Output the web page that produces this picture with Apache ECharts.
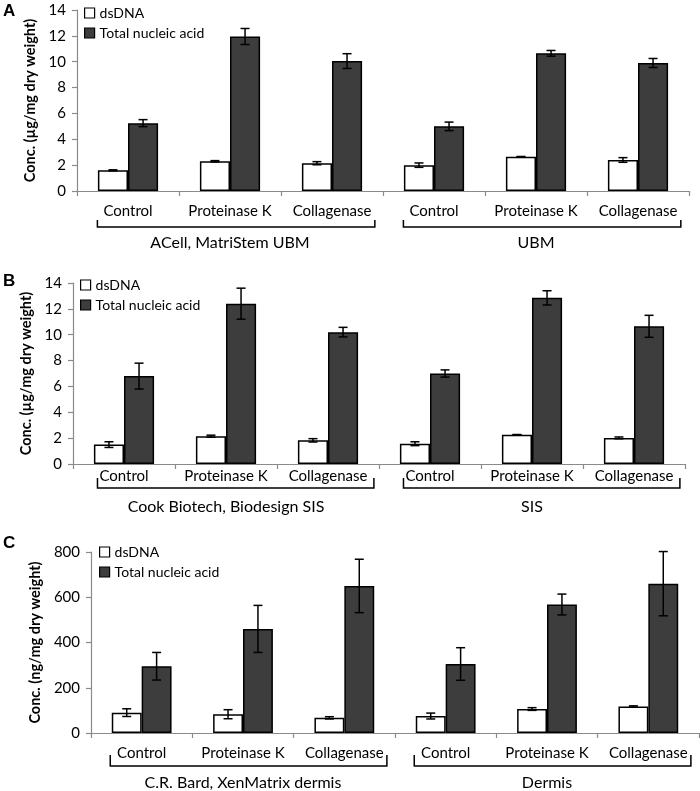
<!DOCTYPE html>
<html><head><meta charset="utf-8">
<script src="https://cdn.jsdelivr.net/npm/echarts@6/dist/echarts.min.js"></script>
<style>html,body{margin:0;padding:0;background:#fff}#c{width:700px;height:791px}</style>
</head><body><div id="c"></div>
<script>
// ---- data ----
const categories = ['Control', 'Proteinase K', 'Collagenase', 'Control', 'Proteinase K', 'Collagenase'];
const seriesNames = ['dsDNA', 'Total nucleic acid'];
const groupsA = ['ACell, MatriStem UBM', 'UBM'];
const groupsB = ['Cook Biotech, Biodesign SIS', 'SIS'];
const groupsC = ['C.R. Bard, XenMatrix dermis', 'Dermis'];
const dsA = [1.6, 2.3, 2.15, 2.0, 2.65, 2.4];
const dsAErr = [0.04, 0.05, 0.12, 0.17, 0.02, 0.18];
const totA = [5.25, 11.95, 10.05, 5.0, 10.65, 9.9];
const totAErr = [0.27, 0.62, 0.57, 0.33, 0.22, 0.35];
const dsB = [1.5, 2.15, 1.83, 1.57, 2.27, 2.02];
const dsBErr = [0.22, 0.08, 0.13, 0.15, 0.01, 0.07];
const totB = [6.8, 12.4, 10.2, 7.0, 12.85, 10.65];
const totBErr = [1.0, 1.2, 0.37, 0.28, 0.55, 0.85];
const dsC = [90, 83, 67, 75, 106, 117];
const dsCErr = [17, 20, 5, 13, 6, 3];
const totC = [295, 460, 650, 305, 568, 660];
const totCErr = [61, 104, 118, 72, 46, 142];
const yTitleAB = 'Conc. (µg/mg dry weight)';
const yTitleC = 'Conc. (ng/mg dry weight)';

// ---- styling ----
const FONT = 'Lato';
const AXIS_GRAY = '#8a8a8a';
const DARK = '#3d3d3d';
const GAP = 0.41;

const panels = [
  {letter: 'A', grid: {left: 77, top: 10, right: 11, height: 181}, max: 14, interval: 2, ytitle: yTitleAB, nameGap: 37,
   ds: dsA, dsErr: dsAErr, tot: totA, totErr: totAErr, groups: groupsA, labelMargin: 13,
   br: {l: 0.2, r: 0.08, dy: 36, tick: 7, ty: 52}, legend: {left: 84, top: 6}, letterTop: 3},
  {letter: 'B', grid: {left: 73, top: 283, right: 15, height: 181}, max: 14, interval: 2, ytitle: yTitleAB, nameGap: 38,
   ds: dsB, dsErr: dsBErr, tot: totB, totErr: totBErr, groups: groupsB, labelMargin: 5,
   br: {l: 0.24, r: 0.05, dy: 24, tick: 10, ty: 43}, legend: {left: 80, top: 278}, letterTop: 273},
  {letter: 'C', grid: {left: 91, top: 552, right: 1, height: 181}, max: 800, interval: 200, ytitle: yTitleC, nameGap: 44,
   ds: dsC, dsErr: dsCErr, tot: totC, totErr: totCErr, groups: groupsC, labelMargin: 13,
   br: {l: 0.19, r: 0.08, dy: 33, tick: 11, ty: 50}, legend: {left: 99, top: 545}, letterTop: 535}
];

function errRender(sign) {
  return function (params, api) {
    const i = api.value(0), v = api.value(1), e = api.value(2);
    const band = api.size([1, 0])[0];
    const bw = band * (1 - GAP) / 2;
    const cx = api.coord([i, v])[0] + sign * bw / 2;
    const top = api.coord([i, v + e])[1];
    const bot = api.coord([i, v - e])[1];
    const cap = 4.5;
    const st = {stroke: '#000', lineWidth: 1.5};
    return {type: 'group', children: [
      {type: 'line', shape: {x1: cx, y1: top, x2: cx, y2: bot}, style: st},
      {type: 'line', shape: {x1: cx - cap, y1: top, x2: cx + cap, y2: top}, style: st},
      {type: 'line', shape: {x1: cx - cap, y1: bot, x2: cx + cap, y2: bot}, style: st}
    ]};
  };
}

function bracketRender(p) {
  return function (params, api) {
    const i = api.value(0);
    const band = api.size([1, 0])[0];
    const s = api.coord([i, 0]);
    const e = api.coord([i + 2, 0]);
    const catL = s[0] - band / 2, catR = e[0] + band / 2;
    const left = catL + p.br.l * band, right = catR - p.br.r * band;
    const y = s[1] + p.br.dy;
    return {type: 'group', children: [
      {type: 'polyline', shape: {points: [[left, y - p.br.tick], [left, y], [right, y], [right, y - p.br.tick]]},
       style: {stroke: '#000', lineWidth: 1.5, fill: null}},
      {type: 'text', x: (catL + catR) / 2, y: s[1] + p.br.ty,
       style: {text: p.groups[params.dataIndex], fontFamily: FONT, fontSize: 16, fill: '#000', align: 'center', verticalAlign: 'middle'}}
    ]};
  };
}

const option = {
  animation: false,
  backgroundColor: '#fff',
  title: panels.map(p => ({text: p.letter, left: 3, top: p.letterTop, padding: 0,
    textStyle: {fontFamily: 'Liberation Sans', fontWeight: 'bold', fontSize: 17, color: '#000'}})),
  legend: panels.map(p => ({
    orient: 'vertical', left: p.legend.left, top: p.legend.top, itemWidth: 10, itemHeight: 10, itemGap: 6,
    icon: 'rect', padding: 0, selectedMode: false,
    textStyle: {fontFamily: FONT, fontSize: 14, color: '#000'},
    data: [
      {name: seriesNames[0], itemStyle: {color: '#fff', borderColor: '#000', borderWidth: 1.2}},
      {name: seriesNames[1], itemStyle: {color: DARK, borderColor: '#000', borderWidth: 1.2}}
    ]
  })),
  grid: panels.map(p => Object.assign({containLabel: false}, p.grid)),
  xAxis: panels.map((p, k) => ({
    type: 'category', gridIndex: k, data: categories,
    axisLine: {lineStyle: {color: AXIS_GRAY, width: 1.2}},
    axisTick: {show: true, length: 5, lineStyle: {color: AXIS_GRAY, width: 1.2}},
    axisLabel: {fontFamily: FONT, fontSize: 15, color: '#000', margin: p.labelMargin, interval: 0}
  })),
  yAxis: panels.map((p, k) => ({
    type: 'value', gridIndex: k, min: 0, max: p.max, interval: p.interval,
    name: p.ytitle, nameLocation: 'middle', nameGap: p.nameGap, nameRotate: 90,
    nameTextStyle: {fontFamily: FONT, fontWeight: 'bold', fontSize: 14.5, color: '#000'},
    axisLine: {show: true, lineStyle: {color: AXIS_GRAY, width: 1.2}},
    axisTick: {show: true, length: 5, lineStyle: {color: AXIS_GRAY, width: 1.2}},
    splitLine: {show: false},
    axisLabel: {fontFamily: FONT, fontSize: 15, color: '#000', margin: 11}
  })),
  series: []
};

panels.forEach((p, k) => {
  option.series.push(
    {name: seriesNames[0], type: 'bar', xAxisIndex: k, yAxisIndex: k, data: p.ds,
     barGap: '0%', barCategoryGap: (GAP * 100) + '%',
     itemStyle: {color: '#fff', borderColor: '#000', borderWidth: 1.5}},
    {name: seriesNames[1], type: 'bar', xAxisIndex: k, yAxisIndex: k, data: p.tot,
     barGap: '0%', barCategoryGap: (GAP * 100) + '%',
     itemStyle: {color: DARK, borderColor: '#000', borderWidth: 1.5}},
    {type: 'custom', xAxisIndex: k, yAxisIndex: k, z: 5,
     data: p.ds.map((v, i) => [i, v, p.dsErr[i]]), encode: {x: 0, y: 1}, renderItem: errRender(-1)},
    {type: 'custom', xAxisIndex: k, yAxisIndex: k, z: 5,
     data: p.tot.map((v, i) => [i, v, p.totErr[i]]), encode: {x: 0, y: 1}, renderItem: errRender(1)},
    {type: 'custom', xAxisIndex: k, yAxisIndex: k, clip: false, silent: true,
     data: p.groups.map((g, j) => [j * 3, 0]), encode: {x: 0, y: 1}, renderItem: bracketRender(p)}
  );
});

const chart = echarts.init(document.getElementById('c'), null, {renderer: 'canvas'});
chart.setOption(option);
</script>
</body></html>
